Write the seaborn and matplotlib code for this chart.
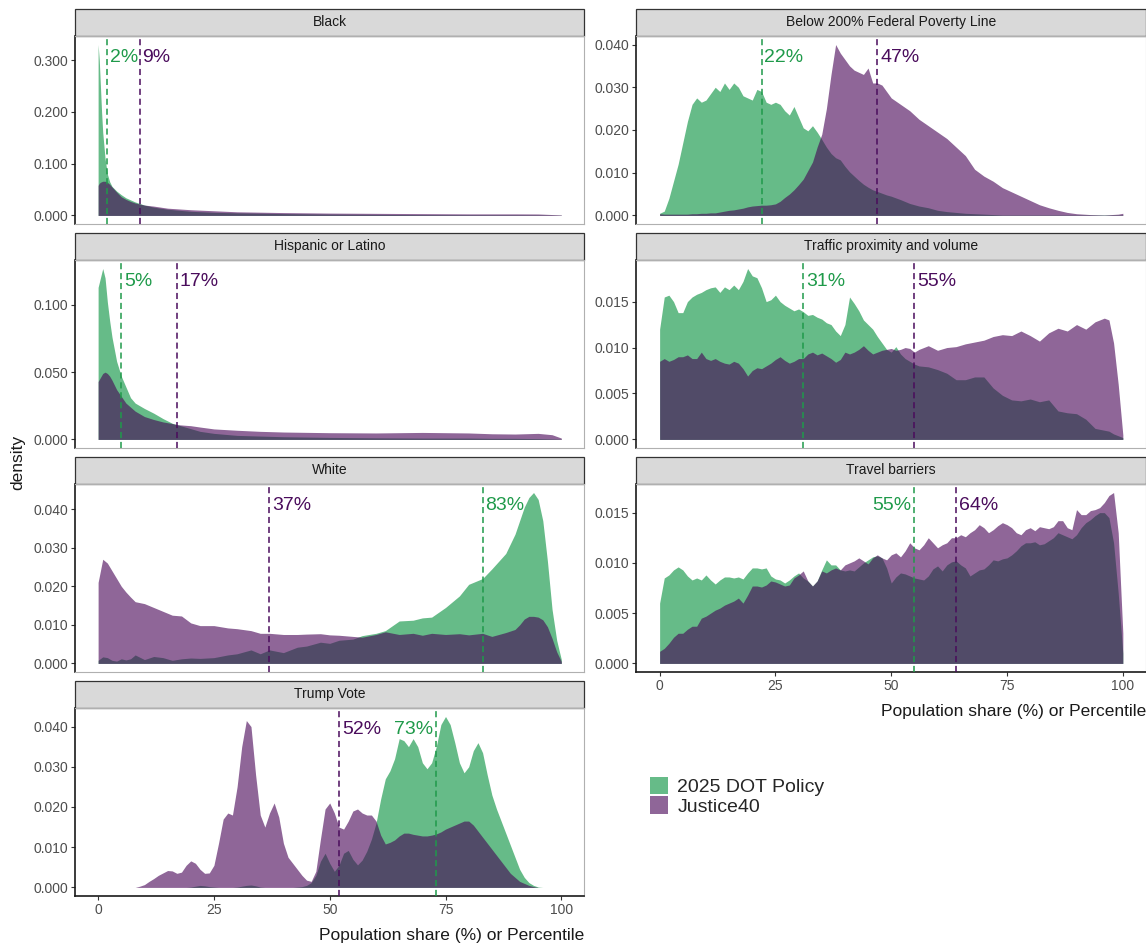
import pandas as pd
import seaborn as sns
import matplotlib.pyplot as plt
from matplotlib.patches import Rectangle, Patch
from matplotlib.ticker import FormatStrFormatter

# facet order (facet_wrap, 2 columns, filled by row)
panels = ["Black", "Below 200% Federal Poverty Line", "Hispanic or Latino",
          "Traffic proximity and volume", "White", "Travel barriers", "Trump Vote"]
groups = ["2025 DOT Policy", "Justice40"]

# --- densities ---
black_x = [0, 0.25, 0.5, 0.75, 1, 1.5, 2, 2.5, 3, 4, 5, 6, 7, 8, 9, 10, 12, 15, 20, 25, 30,
           40, 50, 60, 70, 80, 90, 95, 100]
black_dot = [0.33, 0.30, 0.25, 0.20, 0.16, 0.11, 0.08, 0.065, 0.056, 0.047, 0.040, 0.034,
             0.030, 0.026, 0.023, 0.020, 0.016, 0.012, 0.008, 0.006, 0.005, 0.0035, 0.0025,
             0.002, 0.0015, 0.0012, 0.001, 0.0008, 0.0003]
black_j40 = [0.058, 0.062, 0.064, 0.065, 0.066, 0.066, 0.064, 0.060, 0.055, 0.045, 0.036,
             0.031, 0.027, 0.024, 0.022, 0.020, 0.018, 0.014, 0.011, 0.009, 0.007, 0.0055,
             0.0045, 0.004, 0.0035, 0.003, 0.003, 0.0028, 0.001]

below_x = list(range(0, 51)) + list(range(52, 91, 2)) + [93, 96, 99, 100]
below_dot = [0.0005, 0.001, 0.004, 0.008, 0.012, 0.017, 0.022, 0.026, 0.0275, 0.0265,
             0.027, 0.0285, 0.030, 0.029, 0.031, 0.0295, 0.031, 0.030, 0.028, 0.0275,
             0.027, 0.0295, 0.029, 0.0265, 0.026, 0.0265, 0.026, 0.0245, 0.0235, 0.0255,
             0.023, 0.0205, 0.0198, 0.021, 0.0195, 0.0178, 0.016, 0.0145, 0.0135, 0.013,
             0.0115, 0.0102, 0.0092, 0.0082, 0.0073, 0.0066, 0.006, 0.0056, 0.0052, 0.0048,
             0.0045,
             0.0037, 0.0028, 0.0022, 0.0018, 0.0012, 0.0009, 0.0007, 0.0005, 0.0004, 0.0003,
             0.0002, 0.0001, 0.0001, 0.0001, 0.0001, 0.0001, 0.0001, 0.0001, 0.0001, 0.0001,
             0.0001, 0.0001, 0.0001, 0.0001]
below_j40 = [0.0004, 0.0003, 0.0003, 0.0003, 0.0003, 0.0003, 0.0003, 0.0004, 0.0004, 0.0005,
             0.0005, 0.0006, 0.0006, 0.0008, 0.001, 0.0012, 0.0013, 0.0015, 0.0017, 0.002,
             0.0022, 0.0023, 0.0024, 0.0024, 0.0025, 0.0027, 0.0033, 0.0042, 0.005, 0.006,
             0.0072, 0.0085, 0.0105, 0.0125, 0.016, 0.019, 0.025, 0.033, 0.040, 0.038,
             0.0365, 0.035, 0.034, 0.0335, 0.033, 0.0345, 0.031, 0.031, 0.0305, 0.029,
             0.0275,
             0.026, 0.0245, 0.0225, 0.021, 0.0195, 0.018, 0.016, 0.014, 0.0108, 0.0092,
             0.008, 0.0065, 0.0055, 0.0045, 0.0035, 0.0025, 0.0018, 0.0012, 0.0007, 0.0004,
             0.0002, 0.0001, 0.0003, 0.0005]

hisp_x = [0, 0.5, 1, 1.5, 2, 2.5, 3, 4, 5, 6, 7, 8, 10, 12, 14, 16, 17, 20, 22, 25, 30, 35,
          40, 50, 60, 70, 80, 85, 90, 95, 98, 100]
hisp_dot = [0.113, 0.120, 0.127, 0.120, 0.102, 0.088, 0.076, 0.058, 0.047, 0.039, 0.031,
            0.027, 0.023, 0.0195, 0.0155, 0.012, 0.011, 0.008, 0.006, 0.0045, 0.003, 0.0025,
            0.002, 0.0015, 0.0012, 0.001, 0.001, 0.0008, 0.0008, 0.0006, 0.0004, 0.0002]
hisp_j40 = [0.043, 0.046, 0.049, 0.050, 0.049, 0.047, 0.044, 0.037, 0.032, 0.027, 0.024,
            0.021, 0.017, 0.0148, 0.013, 0.0118, 0.011, 0.0102, 0.0092, 0.0078, 0.0068, 0.006,
            0.0055, 0.005, 0.0048, 0.0052, 0.0048, 0.0042, 0.004, 0.0045, 0.0035, 0.001]

traffic_x = list(range(0, 57)) + list(range(58, 95, 2)) + [96, 97, 98, 99, 100]
traffic_dot = [0.012, 0.0155, 0.0157, 0.015, 0.0138, 0.0138, 0.015, 0.0155, 0.0158, 0.016,
               0.0163, 0.0165, 0.0166, 0.016, 0.0166, 0.0163, 0.0168, 0.0163, 0.0172, 0.0186,
               0.0178, 0.0176, 0.0165, 0.015, 0.0152, 0.0157, 0.015, 0.0146, 0.0143, 0.014,
               0.0142, 0.0139, 0.0135, 0.0136, 0.0133, 0.0131, 0.0127, 0.0125, 0.0118, 0.0113,
               0.0125, 0.0155, 0.0148, 0.014, 0.013, 0.0125, 0.012, 0.0112, 0.0105, 0.0098,
               0.0095, 0.0101, 0.0093, 0.0088, 0.0085, 0.0082, 0.008,
               0.0079, 0.0076, 0.0072, 0.0065, 0.0065, 0.0068, 0.0068, 0.0056, 0.0048, 0.0043,
               0.0042, 0.0044, 0.0041, 0.0043, 0.0031, 0.0029, 0.0028, 0.0022, 0.0012,
               0.001, 0.0009, 0.0006, 0.0004, 0.0002]
traffic_j40 = [0.0085, 0.0088, 0.0085, 0.0087, 0.009, 0.009, 0.0092, 0.0088, 0.0088, 0.0095,
               0.0088, 0.0086, 0.0088, 0.0085, 0.0083, 0.0082, 0.0085, 0.0083, 0.0077, 0.0069,
               0.0075, 0.0078, 0.0077, 0.008, 0.0083, 0.0087, 0.009, 0.0086, 0.0083, 0.0085,
               0.0088, 0.0088, 0.0093, 0.0095, 0.0092, 0.0094, 0.0091, 0.0088, 0.0084, 0.0087,
               0.0095, 0.0093, 0.0095, 0.0098, 0.0102, 0.0097, 0.0093, 0.0095, 0.0097, 0.0098,
               0.0099, 0.0097, 0.0098, 0.01, 0.0099, 0.0095, 0.0098,
               0.0102, 0.0097, 0.01, 0.0101, 0.0104, 0.0106, 0.0108, 0.0112, 0.0114, 0.0113,
               0.0118, 0.0113, 0.0107, 0.0116, 0.0121, 0.0118, 0.0125, 0.012, 0.0128,
               0.0132, 0.013, 0.0105, 0.006, 0.0005]

white_x = [0, 1, 2, 3, 4, 5, 6, 7, 8, 10, 12, 14, 16, 18, 20, 22, 25, 28, 30, 33, 35, 37,
           40, 43, 45, 48, 50, 52, 55, 57, 60, 62, 65, 68, 70, 72, 75, 78, 80, 83, 85, 88, 90,
           91, 92, 93, 94, 95, 96, 97, 98, 99, 100]
white_dot = [0.0008, 0.0017, 0.0015, 0.0008, 0.0006, 0.0012, 0.0009, 0.0012, 0.0022,
             0.001, 0.0018, 0.0015, 0.0008, 0.0012, 0.0014, 0.0013,
             0.0015, 0.0022, 0.0025, 0.0035, 0.0025, 0.0035,
             0.0028, 0.0042, 0.0045, 0.0055, 0.0052, 0.006, 0.0063, 0.0072,
             0.0078, 0.0085, 0.011, 0.0112, 0.0118, 0.012, 0.0145, 0.0175, 0.0205,
             0.022, 0.0245, 0.0285, 0.0335,
             0.037, 0.0405, 0.043, 0.0443, 0.0425, 0.037, 0.0265, 0.014, 0.006, 0.001]
white_j40 = [0.021, 0.027, 0.026, 0.024, 0.022, 0.020, 0.0185, 0.0172, 0.016,
             0.0155, 0.0145, 0.0135, 0.0125, 0.0123, 0.0105, 0.0098,
             0.0098, 0.0092, 0.009, 0.0085, 0.0078, 0.0078,
             0.0075, 0.0075, 0.0076, 0.0077, 0.0074, 0.0073, 0.007, 0.0068,
             0.0075, 0.0082, 0.0075, 0.0078, 0.0073, 0.0078, 0.0075, 0.0077, 0.0074,
             0.0078, 0.007, 0.008, 0.0088,
             0.010, 0.0115, 0.0122, 0.0122, 0.012, 0.0113, 0.0095, 0.0065, 0.003, 0.0005]

travel_x = list(range(0, 101))
travel_dot = [0.006, 0.0085, 0.0088, 0.0093, 0.0096, 0.0093, 0.0087, 0.0083, 0.0085, 0.0083,
              0.0088, 0.0083, 0.0079, 0.0083, 0.0086, 0.0086, 0.0085, 0.0086, 0.0084, 0.009,
              0.0095, 0.0095, 0.0094, 0.0095, 0.0087, 0.0084, 0.0083, 0.008, 0.0083, 0.0087,
              0.009, 0.0085, 0.0082, 0.0077, 0.0082, 0.0093, 0.0103, 0.0098, 0.0098, 0.0093,
              0.0092, 0.0093, 0.0092, 0.0096, 0.01, 0.0103, 0.0106, 0.0107, 0.0105, 0.0095,
              0.008, 0.0086, 0.009, 0.0089, 0.0087, 0.0085, 0.0084, 0.0083, 0.0087, 0.0094,
              0.0097, 0.0092, 0.0098, 0.0101, 0.0102, 0.0098, 0.0095, 0.0087, 0.009, 0.0093,
              0.0094, 0.0098, 0.0103, 0.0102, 0.0104, 0.0105, 0.0108, 0.0112, 0.0117, 0.012,
              0.012, 0.0121, 0.0118, 0.0119, 0.0122, 0.0125, 0.013, 0.0128, 0.0126, 0.0124,
              0.0128, 0.0135, 0.014, 0.0143, 0.0147, 0.015, 0.015, 0.0145, 0.012, 0.007,
              0.001]
travel_j40 = [0.0012, 0.0015, 0.002, 0.0026, 0.003, 0.003, 0.0034, 0.0037, 0.0037, 0.0045,
              0.0047, 0.005, 0.0053, 0.0055, 0.0058, 0.006, 0.0062, 0.0065, 0.006, 0.0068,
              0.0077, 0.0077, 0.0076, 0.0078, 0.0082, 0.0081, 0.0079, 0.0077, 0.0078, 0.0085,
              0.0088, 0.0092, 0.0082, 0.0077, 0.0082, 0.0092, 0.009, 0.0093, 0.0095, 0.0093,
              0.0098, 0.01, 0.0102, 0.0105, 0.0102, 0.0099, 0.0105, 0.0108, 0.0105, 0.0103,
              0.0108, 0.011, 0.0106, 0.0112, 0.012, 0.0115, 0.0113, 0.0118, 0.0125, 0.012,
              0.0115, 0.0118, 0.012, 0.0125, 0.0125, 0.0128, 0.0126, 0.013, 0.0133, 0.0138,
              0.0135, 0.013, 0.0133, 0.0137, 0.014, 0.0138, 0.0135, 0.013, 0.0128, 0.0133,
              0.0135, 0.0132, 0.0136, 0.0135, 0.0134, 0.0136, 0.0142, 0.0142, 0.0135, 0.0133,
              0.0153, 0.0148, 0.0148, 0.0152, 0.0153, 0.0155, 0.016, 0.0167, 0.017, 0.013,
              0.003]

trump_x = list(range(6, 97))
trump_dot = [0, 0, 0, 0, 0,
             0, 0, 0, 0, 0,
             0, 0, 0, 0, 0.0001,
             0.0003, 0.0005, 0.0004, 0.0002, 0.0001,
             0, 0, 0, 0, 0.0001,
             0.0003, 0.0005, 0.0006, 0.0004, 0.0001,
             0, 0, 0, 0, 0,
             0, 0, 0.0001, 0.0002, 0.0005,
             0.0012, 0.003, 0.0065, 0.0085, 0.006,
             0.004, 0.0055, 0.0085, 0.0092, 0.007,
             0.0056, 0.0068, 0.009, 0.012, 0.016,
             0.022, 0.027, 0.029, 0.032, 0.037,
             0.0365, 0.035, 0.037, 0.035, 0.031,
             0.0295, 0.031, 0.035, 0.0405, 0.0425,
             0.0405, 0.036, 0.031, 0.0285, 0.030,
             0.034, 0.036, 0.0335, 0.028, 0.023,
             0.0195, 0.0165, 0.0135, 0.0105, 0.0075,
             0.0045, 0.0025, 0.0012, 0.0005, 0.0001,
             0]
trump_j40 = [0, 0, 0, 0.0003, 0.0007,
             0.0015, 0.0022, 0.003, 0.0036, 0.0042,
             0.0041, 0.0035, 0.0038, 0.0055, 0.0066,
             0.006, 0.0045, 0.0035, 0.0036, 0.0055,
             0.011, 0.017, 0.0185, 0.018, 0.025,
             0.035, 0.0415, 0.040, 0.028, 0.018,
             0.015, 0.0185, 0.021, 0.0175, 0.011,
             0.0075, 0.006, 0.0045, 0.003, 0.0018,
             0.0015, 0.004, 0.012, 0.0195, 0.021,
             0.0185, 0.015, 0.0145, 0.0165, 0.019,
             0.0195, 0.0185, 0.018, 0.018, 0.0165,
             0.013, 0.0108, 0.0112, 0.0118, 0.0128,
             0.0135, 0.0135, 0.0132, 0.013, 0.0128,
             0.0128, 0.013, 0.0133, 0.0138, 0.0145,
             0.015, 0.0155, 0.016, 0.0165, 0.0165,
             0.0155, 0.014, 0.0125, 0.011, 0.0095,
             0.008, 0.0065, 0.005, 0.0035, 0.0025,
             0.0015, 0.001, 0.0005, 0.0002, 0,
             0]

# medians shown as dashed lines
dot_medians = [2, 22, 5, 31, 83, 55, 73]
j40_medians = [9, 47, 17, 55, 37, 64, 52]

# y ticks of each facet (free scales)
black_ticks = [0, 0.1, 0.2, 0.3]
below_ticks = [0, 0.01, 0.02, 0.03, 0.04]
hisp_ticks = [0, 0.05, 0.1]
traffic_ticks = [0, 0.005, 0.01, 0.015]
white_ticks = [0, 0.01, 0.02, 0.03, 0.04]
travel_ticks = [0, 0.005, 0.01, 0.015]
trump_ticks = [0, 0.01, 0.02, 0.03, 0.04]
x_ticks = [0, 25, 50, 75, 100]

xs = [black_x, below_x, hisp_x, traffic_x, white_x, travel_x, trump_x]
dots = [black_dot, below_dot, hisp_dot, traffic_dot, white_dot, travel_dot, trump_dot]
j40s = [black_j40, below_j40, hisp_j40, traffic_j40, white_j40, travel_j40, trump_j40]
tick_sets = [black_ticks, below_ticks, hisp_ticks, traffic_ticks, white_ticks,
             travel_ticks, trump_ticks]

frames = []
for name, x, d, j in zip(panels, xs, dots, j40s):
    frames.append(pd.DataFrame({"panel": name, "x": x, "density": d, "group": groups[0]}))
    frames.append(pd.DataFrame({"panel": name, "x": x, "density": j, "group": groups[1]}))
df = pd.concat(frames, ignore_index=True)

sns.set_theme(style="ticks")
plt.rcParams["font.family"] = ["Liberation Sans", "DejaVu Sans"]

fill_colors = {"2025 DOT Policy": "#008e39", "Justice40": "#440154"}
line_colors = {"2025 DOT Policy": "#1f9a4a", "Justice40": "#4a0c5c"}
ALPHA = 0.6


def fill_density(data, color, label=None, **kws):
    ax = plt.gca()
    ax.fill_between(data["x"], data["density"], color=color, alpha=ALPHA,
                    linewidth=0, label=label, zorder=2)


g = sns.FacetGrid(df, col="panel", col_wrap=2, col_order=panels, hue="group",
                  hue_order=groups, palette=fill_colors, sharex=True, sharey=False,
                  despine=False, height=2, aspect=2.5)
g.map_dataframe(fill_density)

fig = g.figure
fig.set_size_inches(11.46, 9.47)
fig.subplots_adjust(left=0.0654, right=1.0, bottom=0.0539, top=0.962,
                    wspace=0.102, hspace=0.1915)

bottom_panels = {"Travel barriers", "Trump Vote"}
left_labels = {("Travel barriers", groups[0]), ("Trump Vote", groups[0])}
strip_h = 27 / 188

for ax, name, ticks, dm, jm in zip(g.axes.flat, panels, tick_sets, dot_medians, j40_medians):
    ax.set_title("")
    ax.set_xlabel("")
    ax.set_ylabel("")
    ymax = df.loc[df["panel"] == name, "density"].max()
    ax.set_ylim(-0.05 * ymax, 1.05 * ymax)
    ax.set_yticks(ticks)
    ax.yaxis.set_major_formatter(FormatStrFormatter("%.3f"))
    ax.set_xlim(-5, 105)
    ax.set_xticks(x_ticks)
    ax.tick_params(length=3, width=0.8, color="#333333", labelsize=10,
                   labelcolor="#4d4d4d", pad=2)

    # panel border + axis lines
    for s in ax.spines.values():
        s.set_color("#b0b0b0")
        s.set_linewidth(0.8)
    ax.spines["left"].set_color("#1a1a1a")
    ax.spines["left"].set_linewidth(1.2)
    if name in bottom_panels:
        ax.spines["bottom"].set_color("#1a1a1a")
        ax.spines["bottom"].set_linewidth(1.2)
        ax.set_xlabel("Population share (%) or Percentile", loc="right", fontsize=12.5,
                      color="#1a1a1a", labelpad=8)
    else:
        ax.tick_params(axis="x", labelbottom=False, length=0)

    # facet strip
    ax.add_patch(Rectangle((0, 1), 1, strip_h, transform=ax.transAxes, clip_on=False,
                           facecolor="#d9d9d9", edgecolor="#333333", linewidth=0.9))
    ax.text(0.5, 1 + strip_h / 2, name, transform=ax.transAxes, ha="center",
            va="center", fontsize=10, color="#1a1a1a")

    # median lines and labels
    for med, grp in [(dm, groups[0]), (jm, groups[1])]:
        ax.axvline(med, color=line_colors[grp], linestyle=(0, (4, 2.5)), linewidth=1.1,
                   zorder=3)
        left = (name, grp) in left_labels
        ax.text(med - 0.6 if left else med + 0.6, 0.887, f"{med}%",
                transform=ax.get_xaxis_transform(), ha="right" if left else "left",
                va="center", fontsize=14, color=line_colors[grp], zorder=4)

fig.text(18 / 1146, 1 - 462 / 947, "density", rotation=90, ha="center", va="center",
         fontsize=12.5, color="#1a1a1a")

handles = [Patch(facecolor=fill_colors[grp], alpha=ALPHA, edgecolor="none", label=grp)
           for grp in groups]
fig.legend(handles=handles, loc="upper left", bbox_to_anchor=(650 / 1146, 1 - 777 / 947),
           frameon=False, fontsize=14, handlelength=0.95, handleheight=1.0,
           labelspacing=0.0, handletextpad=0.45, borderpad=0, borderaxespad=0)

fig.savefig("out.png", dpi=100)
